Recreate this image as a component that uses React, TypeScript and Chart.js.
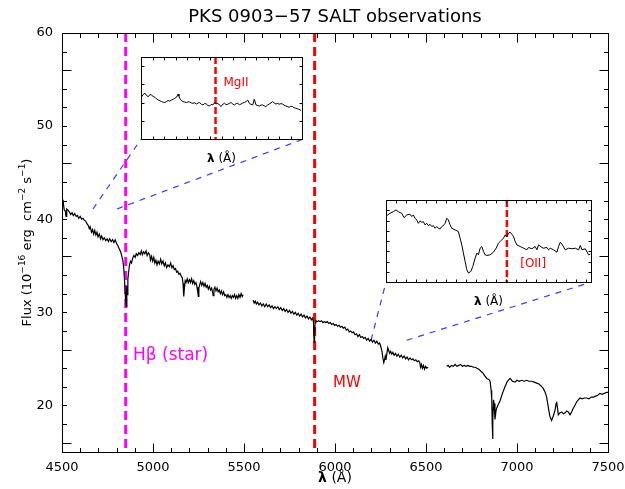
import React, { useEffect, useRef } from 'react';
import { Chart, registerables } from 'chart.js';

Chart.register(...registerables);

const FONT = '"DejaVu Sans", "Liberation Sans", sans-serif';

// ---------- main axes ----------
const TITLE = 'PKS 0903\u221257 SALT observations';
const xRange = [4500, 7500];
const yRange = [15, 60];
const xTickValues = [4500, 5000, 5500, 6000, 6500, 7000, 7500];
const yTickValues = [20, 30, 40, 50, 60];
const xMinorStep = 100;
const yMinorStep = 2;

// ---------- spectrum (wavelength Å, flux 1e-16) ----------
const spectrumSeg1: [number, number][] = [
  [4500, 42.1], [4503, 41.4], [4507, 41.8], [4512, 41.0], [4518, 40.9], [4522, 40.3], [4526, 41.1], [4532, 41.0],
  [4540, 40.8], [4548, 40.5], [4555, 40.7], [4562, 40.4], [4570, 40.6], [4578, 40.3], [4585, 40.4], [4592, 40.1],
  [4600, 40.3], [4608, 40.0], [4615, 40.1], [4622, 39.9], [4630, 39.8], [4638, 39.5], [4645, 39.3], [4650, 39.0],
  [4655, 39.2], [4662, 38.6], [4668, 38.9], [4674, 38.4], [4680, 38.8], [4686, 38.3], [4692, 38.6], [4698, 38.1],
  [4705, 38.4], [4712, 37.9], [4718, 38.2], [4725, 37.8], [4732, 38.0], [4740, 37.7], [4748, 37.9], [4755, 37.6],
  [4762, 37.9], [4770, 37.6], [4778, 37.8], [4785, 37.5], [4792, 37.8], [4800, 37.4], [4808, 37.1], [4815, 36.8],
  [4822, 36.5], [4828, 36.1], [4834, 35.6], [4839, 34.8], [4843, 33.6], [4847, 32.2], [4850, 31.0], [4853, 30.6],
  [4856, 32.8], [4859, 31.9], [4862, 33.6], [4866, 34.3], [4870, 35.0], [4876, 35.5], [4882, 35.3], [4888, 35.8],
  [4895, 36.1], [4902, 35.9], [4908, 36.3], [4915, 36.1], [4922, 36.4], [4930, 36.2], [4936, 36.6], [4942, 36.2],
  [4948, 36.5], [4955, 36.3], [4962, 36.6], [4968, 36.1], [4975, 36.4], [4982, 36.2], [4986, 35.6], [4992, 36.0],
  [4998, 35.5], [5004, 35.9], [5010, 35.3], [5016, 35.6], [5022, 35.1], [5028, 35.5], [5035, 35.2], [5042, 35.7],
  [5048, 35.2], [5055, 35.5], [5062, 35.0], [5068, 35.3], [5075, 34.8], [5082, 35.1], [5090, 34.9], [5097, 35.3],
  [5104, 34.8], [5110, 35.0], [5117, 34.6], [5124, 34.7], [5130, 34.3], [5136, 34.4], [5142, 34.1], [5148, 34.2],
  [5155, 33.9], [5161, 33.7], [5165, 33.1], [5168, 32.2], [5170, 31.7], [5173, 32.7], [5177, 33.4], [5182, 33.2],
  [5188, 33.6], [5194, 33.2], [5200, 33.5], [5206, 33.2], [5212, 33.6], [5218, 33.1], [5224, 33.4], [5230, 33.0],
  [5236, 33.2], [5242, 32.7], [5246, 32.2], [5249, 31.7], [5252, 32.6], [5257, 33.0], [5262, 33.3], [5268, 32.9],
  [5274, 33.2], [5280, 32.8], [5286, 33.1], [5292, 32.7], [5298, 32.9], [5304, 32.5], [5310, 32.8], [5316, 32.4],
  [5322, 32.6], [5327, 32.2], [5331, 31.8], [5335, 32.5], [5340, 32.7], [5346, 32.3], [5352, 32.6], [5358, 32.2],
  [5364, 32.4], [5370, 32.0], [5376, 32.3], [5382, 31.9], [5388, 32.2], [5394, 31.8], [5400, 31.9], [5406, 31.6],
  [5412, 31.9], [5418, 31.6], [5424, 31.8], [5430, 31.5], [5436, 31.8], [5442, 31.6], [5448, 31.9], [5454, 31.5],
  [5460, 31.8], [5466, 31.5], [5472, 31.9], [5478, 31.6], [5484, 32.0], [5490, 31.7], [5495, 31.9],
];
const spectrumSeg2: [number, number][] = [
  [5550, 31.3], [5556, 31.0], [5562, 31.2], [5568, 30.9], [5575, 31.1], [5582, 30.8], [5590, 31.0], [5598, 30.7],
  [5606, 30.9], [5614, 30.6], [5622, 30.9], [5630, 30.6], [5638, 30.8], [5646, 30.5], [5654, 30.7], [5662, 30.4],
  [5670, 30.6], [5678, 30.4], [5686, 30.6], [5694, 30.3], [5702, 30.5], [5710, 30.2], [5718, 30.4], [5726, 30.1],
  [5734, 30.3], [5742, 30.0], [5750, 30.2], [5758, 29.9], [5766, 30.1], [5774, 29.8], [5782, 30.0], [5790, 29.7],
  [5798, 29.9], [5806, 29.6], [5814, 29.8], [5822, 29.5], [5830, 29.7], [5838, 29.4], [5846, 29.6], [5854, 29.3],
  [5862, 29.5], [5870, 29.2], [5877, 29.4], [5882, 28.9], [5885, 26.8], [5888, 27.6], [5891, 28.9], [5895, 29.1],
  [5902, 29.0], [5910, 29.1], [5918, 29.0], [5926, 29.1], [5934, 28.9], [5942, 29.0], [5950, 28.9], [5958, 29.0],
  [5966, 28.8], [5974, 28.9], [5982, 28.7], [5990, 28.8], [5998, 28.6], [6006, 28.7], [6014, 28.5], [6022, 28.6],
  [6030, 28.4], [6038, 28.5], [6046, 28.3], [6054, 28.4], [6062, 28.1], [6070, 28.2], [6078, 27.9], [6086, 28.0],
  [6094, 27.8], [6102, 27.9], [6110, 27.6], [6118, 27.7], [6126, 27.4], [6134, 27.6], [6142, 27.3], [6150, 27.4],
  [6158, 27.2], [6166, 27.3], [6174, 27.0], [6182, 27.2], [6190, 26.9], [6198, 27.1], [6206, 26.8], [6214, 27.0],
  [6222, 26.7], [6230, 26.9], [6238, 26.6], [6245, 26.7], [6252, 26.3], [6258, 25.8], [6263, 25.1], [6268, 24.6],
  [6272, 24.9], [6276, 25.3], [6280, 24.9], [6285, 25.6], [6290, 26.2], [6295, 25.9], [6300, 25.6], [6306, 25.8],
  [6312, 25.5], [6318, 25.7], [6325, 25.4], [6332, 25.6], [6340, 25.3], [6348, 25.5], [6356, 25.2], [6364, 25.4],
  [6372, 25.1], [6380, 25.3], [6388, 25.0], [6396, 25.2], [6404, 24.9], [6412, 25.1], [6420, 24.9], [6428, 25.0],
  [6436, 24.8], [6444, 24.9], [6452, 24.7], [6460, 24.8], [6466, 24.6], [6470, 24.1], [6475, 24.4], [6480, 24.0],
  [6486, 24.3], [6492, 23.9], [6498, 24.2], [6504, 24.0], [6512, 24.1],
];
const spectrumSeg3: [number, number][] = [
  [6614, 24.2], [6622, 24.3], [6630, 24.1], [6640, 24.3], [6650, 24.2], [6660, 24.4], [6670, 24.2], [6680, 24.3],
  [6690, 24.4], [6700, 24.2], [6710, 24.3], [6720, 24.2], [6730, 24.3], [6740, 24.2], [6750, 24.2], [6760, 24.1],
  [6770, 24.1], [6780, 24.0], [6790, 23.9], [6800, 23.7], [6812, 23.5], [6822, 23.2], [6834, 22.9], [6845, 22.8],
  [6852, 22.6], [6858, 21.6], [6861, 20.8], [6864, 18.0], [6866, 16.4], [6868, 18.5], [6871, 20.6], [6874, 20.2],
  [6879, 18.5], [6884, 19.3], [6888, 19.7], [6897, 20.1], [6907, 20.5], [6920, 21.3], [6934, 22.0], [6947, 22.6],
  [6962, 22.9], [6975, 22.6], [6989, 22.5], [7000, 22.7], [7012, 22.6], [7025, 22.7], [7040, 22.6], [7053, 22.7],
  [7065, 22.6], [7080, 22.6], [7095, 22.5], [7108, 22.4], [7120, 22.3], [7132, 22.1], [7145, 21.8], [7155, 21.4],
  [7163, 20.9], [7172, 19.8], [7181, 18.8], [7190, 18.4], [7200, 18.9], [7209, 19.5], [7215, 20.2], [7218, 20.4],
  [7222, 19.8], [7227, 19.0], [7235, 19.2], [7246, 19.3], [7255, 19.1], [7264, 19.2], [7273, 19.4], [7282, 19.3],
  [7291, 19.0], [7300, 19.3], [7309, 19.7], [7318, 20.0], [7328, 20.4], [7337, 20.6], [7346, 20.8], [7358, 20.7],
  [7370, 20.8], [7383, 20.8], [7395, 20.7], [7408, 20.9], [7420, 20.9], [7432, 21.0], [7444, 21.1], [7456, 21.3],
  [7468, 21.2], [7480, 21.3], [7493, 21.4], [7500, 21.4],
];
const spectrumGaps = [5520, 6560];

// ---------- line markers ----------
const hBetaLambda = 4850;
const mwLambda = 5888;
const hBetaLabel = { text: 'H\u03B2 (star)', at: [4890, 25.4] };
const mwLabel = { text: 'MW', at: [5989, 22.4] };

// ---------- connectors: zoomed point -> inset corner (Å, flux) ----------
const connector1: [number, number][] = [[4670, 41.1], [4934, 48.58]];
const connector2: [number, number][] = [[4802, 41.1], [5821, 48.58]];
const connector3: [number, number][] = [[6198, 27.0], [6280, 33.23]];
const connector4: [number, number][] = [[6394, 27.0], [7405, 33.23]];

// ---------- inset 1 (MgII) ----------
const inset1Top = 57.45;
const inset1XMax = 14;
const inset1YMax = 4.5;
const inset1Marker = 6.48;
const inset1Label = { text: 'MgII', at: [7.17, 3.07] };
const inset1Spectrum: [number, number][] = [
  [0.06, 2.32], [0.2, 2.45], [0.35, 2.51], [0.5, 2.38], [0.63, 2.32], [0.78, 2.44], [0.92, 2.41], [1.06, 2.33],
  [1.21, 2.29], [1.35, 2.2], [1.5, 2.14], [1.65, 2.1], [1.79, 2.05], [1.93, 2.02], [2.07, 2.0], [2.22, 2.06],
  [2.36, 2.11], [2.5, 2.08], [2.65, 2.14], [2.8, 2.18], [2.94, 2.23], [3.1, 2.3], [3.23, 2.47], [3.3, 2.35],
  [3.37, 2.23], [3.5, 2.12], [3.66, 2.05], [3.8, 2.03], [3.95, 2.0], [4.1, 2.04], [4.23, 2.03], [4.38, 1.98],
  [4.52, 1.96], [4.66, 1.99], [4.81, 1.92], [4.95, 1.97], [5.1, 2.0], [5.25, 1.9], [5.39, 1.87], [5.54, 1.95],
  [5.68, 1.92], [5.82, 1.84], [5.96, 1.81], [6.1, 1.9], [6.25, 1.87], [6.4, 2.0], [6.55, 1.94], [6.68, 1.96],
  [6.82, 1.86], [6.97, 1.78], [7.1, 1.9], [7.26, 1.96], [7.4, 1.88], [7.55, 1.91], [7.7, 1.96], [7.84, 2.0],
  [7.98, 1.92], [8.12, 1.87], [8.27, 1.94], [8.41, 1.96], [8.55, 1.88], [8.7, 1.92], [8.85, 1.98], [8.99, 2.0],
  [9.14, 2.06], [9.28, 2.14], [9.42, 1.96], [9.56, 1.9], [9.71, 1.87], [9.85, 2.18], [10.0, 1.87], [10.14, 1.84],
  [10.29, 1.81], [10.43, 1.86], [10.57, 1.87], [10.72, 1.82], [10.86, 1.78], [11.0, 1.86], [11.15, 1.92],
  [11.3, 1.98], [11.44, 2.05], [11.58, 1.98], [11.73, 1.92], [11.87, 1.95], [12.01, 1.91], [12.16, 1.94],
  [12.3, 1.92], [12.44, 1.86], [12.59, 1.81], [12.73, 1.78], [12.88, 1.74], [13.02, 1.8], [13.17, 1.78],
  [13.3, 1.72], [13.45, 1.69], [13.6, 1.66], [13.74, 1.63], [13.92, 1.56],
];

// ---------- inset 2 ([OII]) ----------
const inset2Top = 42.06;
const inset2XMax = 20.47;
const inset2YMax = 8;
const inset2Marker = 12.07;
const inset2Label = { text: '[OII]', at: [13.4, 1.78] };
const inset2Spectrum: [number, number][] = [
  [0.07, 6.48], [0.4, 6.7], [0.73, 6.86], [1.0, 7.03], [1.23, 6.86], [1.57, 6.7], [1.8, 6.28], [2.07, 6.54],
  [2.4, 6.61], [2.57, 6.38], [2.73, 6.54], [2.9, 6.22], [3.07, 6.05], [3.23, 5.73], [3.4, 5.96], [3.57, 5.83],
  [3.73, 5.89], [3.9, 5.57], [4.07, 5.73], [4.23, 5.5], [4.4, 5.63], [4.57, 5.41], [4.73, 5.5], [4.9, 5.24],
  [5.07, 5.41], [5.23, 5.24], [5.4, 5.18], [5.57, 5.41], [5.73, 5.5], [5.9, 5.73], [6.07, 6.22], [6.23, 6.05],
  [6.4, 5.57], [6.57, 5.24], [6.9, 5.08], [7.23, 4.92], [7.4, 4.27], [7.57, 3.62], [7.73, 2.82], [7.9, 2.0],
  [8.07, 1.2], [8.23, 0.87], [8.47, 1.03], [8.67, 1.52], [8.9, 2.33], [9.07, 2.82], [9.23, 2.65], [9.4, 3.3],
  [9.57, 3.46], [9.73, 2.98], [9.9, 2.65], [10.07, 2.59], [10.4, 2.65], [10.73, 2.91], [11.0, 3.3], [11.23, 3.79],
  [11.4, 3.95], [11.57, 4.11], [11.73, 4.27], [11.9, 4.6], [12.07, 4.43], [12.23, 4.76], [12.4, 4.86],
  [12.57, 4.66], [12.73, 4.43], [12.9, 3.95], [13.07, 3.62], [13.4, 3.46], [13.73, 3.3], [14.07, 3.14],
  [14.23, 3.37], [14.57, 3.24], [14.9, 3.46], [15.07, 3.14], [15.23, 3.62], [15.57, 3.37], [15.73, 3.3],
  [16.07, 3.37], [16.23, 3.14], [16.4, 3.3], [16.73, 3.14], [17.07, 2.91], [17.23, 3.46], [17.4, 3.88],
  [17.57, 3.69], [17.9, 3.14], [18.23, 3.3], [18.57, 3.24], [18.9, 3.3], [19.23, 3.14], [19.4, 3.56],
  [19.57, 3.14], [19.9, 3.24], [20.23, 2.65], [20.4, 2.72],
];

const pts = (arr: [number, number][]) => arr.map(([x, y]) => ({ x, y }));

function drawLambdaTitle(ctx: CanvasRenderingContext2D, cx: number, cy: number, size: number) {
  ctx.save();
  ctx.fillStyle = '#000';
  ctx.textBaseline = 'middle';
  ctx.textAlign = 'left';
  ctx.font = `bold ${size}px ${FONT}`;
  const w1 = ctx.measureText('\u03BB').width;
  ctx.font = `${size}px ${FONT}`;
  const rest = ' (\u00C5)';
  const w2 = ctx.measureText(rest).width;
  const start = cx - (w1 + w2) / 2;
  ctx.font = `bold ${size}px ${FONT}`;
  ctx.fillText('\u03BB', start, cy);
  ctx.font = `${size}px ${FONT}`;
  ctx.fillText(rest, start + w1, cy);
  ctx.restore();
}

function strokeLine(ctx: CanvasRenderingContext2D, x1: number, y1: number, x2: number, y2: number) {
  ctx.beginPath();
  ctx.moveTo(x1, y1);
  ctx.lineTo(x2, y2);
  ctx.stroke();
}

function drawFrameAndTicks(
  chart: any,
  xMin: number, xMax: number, xStep: number, xMajorEvery: number,
  yMin: number, yMax: number, yStep: number, yMajorEvery: number,
  majorLen: number, minorLen: number,
) {
  const { ctx, chartArea: a, scales } = chart;
  const xs = scales.x;
  const ys = scales.y;
  ctx.save();
  ctx.strokeStyle = '#000';
  ctx.lineWidth = 1;
  const L = Math.round(a.left) + 0.5;
  const R = Math.round(a.right) + 0.5;
  const T = Math.round(a.top) + 0.5;
  const B = Math.round(a.bottom) + 0.5;
  ctx.strokeRect(L, T, R - L, B - T);
  let i = 0;
  for (let v = xMin; v <= xMax + 1e-9; v += xStep, i++) {
    const px = Math.round(xs.getPixelForValue(v)) + 0.5;
    const len = i % xMajorEvery === 0 ? majorLen : minorLen;
    strokeLine(ctx, px, B, px, B - len);
    strokeLine(ctx, px, T, px, T + len);
  }
  i = 0;
  for (let v = yMin; v <= yMax + 1e-9; v += yStep, i++) {
    const py = Math.round(ys.getPixelForValue(v)) + 0.5;
    const len = i % yMajorEvery === 0 ? majorLen : minorLen;
    strokeLine(ctx, L, py, L + len, py);
    strokeLine(ctx, R, py, R - len, py);
  }
  ctx.restore();
}

const mainDecor = {
  id: 'mainDecor',
  afterDraw(chart: any) {
    const { ctx, scales } = chart;
    const xs = scales.x;
    const ys = scales.y;
    drawFrameAndTicks(chart, xRange[0], xRange[1], xMinorStep, 5, 16, yRange[1], yMinorStep, 5, 9, 4.5);
    // main title
    ctx.save();
    ctx.fillStyle = '#000';
    ctx.font = `18px ${FONT}`;
    ctx.textAlign = 'center';
    ctx.textBaseline = 'middle';
    ctx.fillText(TITLE, (chart.chartArea.left + chart.chartArea.right) / 2, 17);
    ctx.restore();
    // x title
    drawLambdaTitle(ctx, (chart.chartArea.left + chart.chartArea.right) / 2, 478, 14);
    // y title with superscripts
    const parts: [string, boolean][] = [
      ['Flux (10', false], ['\u221216', true], [' erg  cm', false], ['\u22122', true],
      [' s', false], ['\u22121', true], [')', false],
    ];
    ctx.save();
    ctx.fillStyle = '#000';
    ctx.textBaseline = 'alphabetic';
    ctx.textAlign = 'left';
    const normal = `13px ${FONT}`;
    const sup = `9px ${FONT}`;
    let total = 0;
    for (const [t, s] of parts) {
      ctx.font = s ? sup : normal;
      total += ctx.measureText(t).width;
    }
    ctx.translate(31, (chart.chartArea.top + chart.chartArea.bottom) / 2);
    ctx.rotate(-Math.PI / 2);
    let cx = -total / 2;
    for (const [t, s] of parts) {
      ctx.font = s ? sup : normal;
      ctx.fillText(t, cx, s ? -6 : 0);
      cx += ctx.measureText(t).width;
    }
    ctx.restore();
    // line labels
    ctx.save();
    ctx.textAlign = 'left';
    ctx.textBaseline = 'middle';
    ctx.font = `17px ${FONT}`;
    ctx.fillStyle = '#ff00ff';
    ctx.fillText(hBetaLabel.text, xs.getPixelForValue(hBetaLabel.at[0]), ys.getPixelForValue(hBetaLabel.at[1]));
    ctx.font = `15px ${FONT}`;
    ctx.fillStyle = '#ff0000';
    ctx.fillText(mwLabel.text, xs.getPixelForValue(mwLabel.at[0]), ys.getPixelForValue(mwLabel.at[1]));
    ctx.restore();
  },
};

function makeInsetDecor(xMax: number, yMax: number, yMajorEvery: number, label: { text: string; at: number[] }) {
  return {
    id: 'insetDecor',
    beforeDraw(chart: any) {
      const { ctx, chartArea: a } = chart;
      ctx.save();
      ctx.fillStyle = '#ffffff';
      ctx.fillRect(a.left, a.top, a.right - a.left, a.bottom - a.top);
      ctx.restore();
    },
    afterDraw(chart: any) {
      const { ctx, chartArea: a, scales } = chart;
      drawFrameAndTicks(chart, 0, xMax, 1, 1, 1, yMax - 0.01, 1, yMajorEvery, 3, 3);
      ctx.save();
      ctx.fillStyle = '#ff0000';
      ctx.font = `12px ${FONT}`;
      ctx.textAlign = 'left';
      ctx.textBaseline = 'middle';
      ctx.fillText(label.text, scales.x.getPixelForValue(label.at[0]), scales.y.getPixelForValue(label.at[1]));
      ctx.restore();
      drawLambdaTitle(ctx, (a.left + a.right) / 2, a.bottom + 20, 12);
    },
  };
}

function baseInsetOptions(xMax: number, yMax: number) {
  return {
    responsive: false,
    animation: false as const,
    events: [] as any[],
    layout: { padding: { left: 1, right: 1, top: 1, bottom: 29 } },
    plugins: { legend: { display: false }, tooltip: { enabled: false } },
    scales: {
      x: { type: 'linear' as const, min: 0, max: xMax, display: false },
      y: { type: 'linear' as const, min: 0, max: yMax, display: false },
    },
  };
}

export default function App() {
  const mainRef = useRef<HTMLCanvasElement>(null);
  const in1Ref = useRef<HTMLCanvasElement>(null);
  const in2Ref = useRef<HTMLCanvasElement>(null);
  const box1Ref = useRef<HTMLDivElement>(null);
  const box2Ref = useRef<HTMLDivElement>(null);

  useEffect(() => {
    const spectrum = [
      ...pts(spectrumSeg1),
      { x: spectrumGaps[0], y: null as any },
      ...pts(spectrumSeg2),
      { x: spectrumGaps[1], y: null as any },
      ...pts(spectrumSeg3),
    ];
    const connectorStyle = {
      borderColor: '#3a3aff',
      borderWidth: 1.2,
      borderDash: [6, 6],
      pointRadius: 0,
      fill: false,
    };
    const main = new Chart(mainRef.current!, {
      type: 'line',
      data: {
        datasets: [
          { data: spectrum, borderColor: '#000', borderWidth: 1.2, pointRadius: 0, spanGaps: false, tension: 0 },
          {
            data: [{ x: hBetaLambda, y: yRange[1] }, { x: hBetaLambda, y: yRange[0] }],
            borderColor: '#ff00ff', borderWidth: 3, borderDash: [9, 5], pointRadius: 0,
          },
          {
            data: [{ x: mwLambda, y: yRange[1] }, { x: mwLambda, y: yRange[0] }],
            borderColor: '#ff0000', borderWidth: 3, borderDash: [9, 5], pointRadius: 0,
          },
          { data: pts(connector1), ...connectorStyle },
          { data: pts(connector2), ...connectorStyle },
          { data: pts(connector3), ...connectorStyle },
          { data: pts(connector4), ...connectorStyle },
        ] as any,
      },
      options: {
        responsive: false,
        animation: false,
        events: [],
        layout: { padding: { top: 33, right: 17, left: 0, bottom: 0 } },
        plugins: { legend: { display: false }, tooltip: { enabled: false } },
        scales: {
          x: {
            type: 'linear',
            min: xRange[0],
            max: xRange[1],
            afterBuildTicks: (s: any) => { s.ticks = xTickValues.map((v) => ({ value: v })); },
            afterFit: (s: any) => { s.height = 37; s.paddingLeft = 0; s.paddingRight = 0; s.paddingTop = 0; s.paddingBottom = 0; },
            grid: { display: false, drawTicks: false },
            border: { display: false },
            ticks: {
              color: '#000', font: { family: FONT, size: 13 }, padding: 8, maxRotation: 0, minRotation: 0, autoSkip: false,
              callback: (v: any) => String(v),
            },
          },
          y: {
            type: 'linear',
            min: yRange[0],
            max: yRange[1],
            afterBuildTicks: (s: any) => { s.ticks = yTickValues.map((v) => ({ value: v })); },
            afterFit: (s: any) => { s.width = 62; s.paddingTop = 0; s.paddingBottom = 0; },
            grid: { display: false, drawTicks: false },
            border: { display: false },
            ticks: { color: '#000', font: { family: FONT, size: 13 }, padding: 9, callback: (v: any) => String(v) },
          },
        },
      } as any,
      plugins: [mainDecor],
    });

    const xs: any = main.scales.x;
    const ys: any = main.scales.y;
    const place = (
      box: HTMLDivElement, canvas: HTMLCanvasElement, x0: number, x1: number, y0: number, y1: number,
    ) => {
      const left = Math.round(xs.getPixelForValue(x0));
      const right = Math.round(xs.getPixelForValue(x1));
      const top = Math.round(ys.getPixelForValue(y1));
      const bottom = Math.round(ys.getPixelForValue(y0));
      const w = right - left + 2;
      const h = bottom - top + 2 + 28;
      box.style.left = `${left - 1}px`;
      box.style.top = `${top - 1}px`;
      canvas.width = w;
      canvas.height = h;
      canvas.style.width = `${w}px`;
      canvas.style.height = `${h}px`;
    };
    place(box1Ref.current!, in1Ref.current!, connector1[1][0], connector2[1][0], connector1[1][1], inset1Top);
    place(box2Ref.current!, in2Ref.current!, connector3[1][0], connector4[1][0], connector3[1][1], inset2Top);

    const inset1 = new Chart(in1Ref.current!, {
      type: 'line',
      data: {
        datasets: [
          { data: pts(inset1Spectrum), borderColor: '#000', borderWidth: 1, pointRadius: 0, tension: 0 },
          {
            data: [{ x: inset1Marker, y: inset1YMax }, { x: inset1Marker, y: 0 }],
            borderColor: '#ff0000', borderWidth: 2.5, borderDash: [7, 3], pointRadius: 0,
          },
        ] as any,
      },
      options: baseInsetOptions(inset1XMax, inset1YMax) as any,
      plugins: [makeInsetDecor(inset1XMax, inset1YMax, 1, inset1Label)],
    });

    const inset2 = new Chart(in2Ref.current!, {
      type: 'line',
      data: {
        datasets: [
          { data: pts(inset2Spectrum), borderColor: '#000', borderWidth: 1, pointRadius: 0, tension: 0 },
          {
            data: [{ x: inset2Marker, y: inset2YMax }, { x: inset2Marker, y: 0 }],
            borderColor: '#ff0000', borderWidth: 2.5, borderDash: [7, 3], pointRadius: 0,
          },
        ] as any,
      },
      options: baseInsetOptions(inset2XMax, inset2YMax) as any,
      plugins: [makeInsetDecor(inset2XMax, inset2YMax, 1, inset2Label)],
    });

    return () => {
      main.destroy();
      inset1.destroy();
      inset2.destroy();
    };
  }, []);

  return (
    <div style={{ position: 'fixed', left: 0, top: 0, width: 625, height: 489, background: '#fff' }}>
      <canvas ref={mainRef} width={625} height={489} style={{ position: 'absolute', left: 0, top: 0, width: 625, height: 489 }} />
      <div ref={box1Ref} style={{ position: 'absolute' }}>
        <canvas ref={in1Ref} style={{ display: 'block' }} />
      </div>
      <div ref={box2Ref} style={{ position: 'absolute' }}>
        <canvas ref={in2Ref} style={{ display: 'block' }} />
      </div>
    </div>
  );
}
